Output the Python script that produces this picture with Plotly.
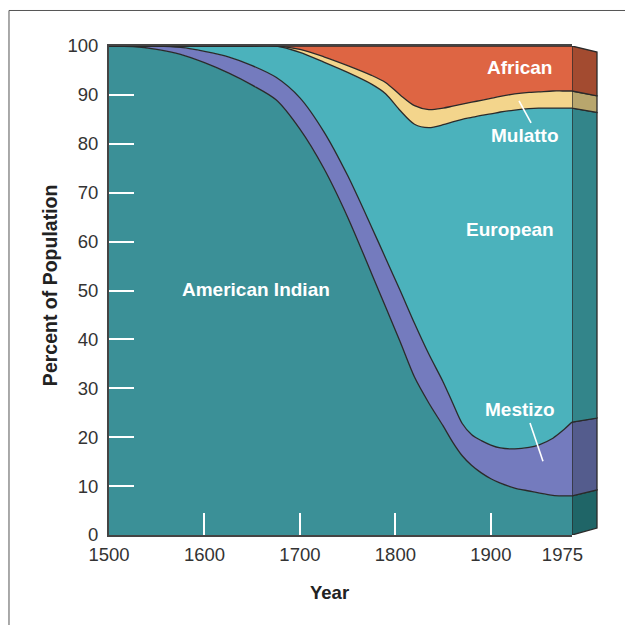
import plotly.graph_objects as go

# Years sampled along the horizontal axis
years = [1500, 1525, 1550, 1575, 1600, 1625, 1650, 1675,
         1700, 1725, 1750, 1775, 1790, 1805, 1820, 1835,
         1850, 1860, 1870, 1880, 1890, 1900, 1910, 1925,
         1940, 1950, 1965, 1975, 1985]

# Share of population (%) by group, stacked bottom to top
american_indian = [100, 99.9, 99.3, 98.3, 96.6, 94.5, 92.0, 89.0,
                   83.0, 75.0, 65.0, 53.5, 46.5, 39.5, 32.3, 27.0,
                   22.3, 19.0, 16.2, 14.2, 12.7, 11.5, 10.6, 9.6,
                   9.0, 8.6, 8.1, 8.0, 8.0]
mestizo = [0, 0.1, 0.7, 1.4, 2.3, 3.3, 4.0, 4.6,
           6.4, 7.5, 8.5, 9.5, 10.0, 10.5, 11.0, 10.0,
           9.0, 8.0, 6.6, 6.3, 6.6, 6.9, 7.2, 8.0,
           8.9, 9.8, 11.7, 13.3, 15.1]
european = [0, 0, 0, 0.3, 1.1, 2.2, 4.0, 6.4,
            9.3, 14.2, 21.1, 29.2, 33.7, 36.8, 40.7, 46.3,
            52.6, 57.5, 62.2, 64.9, 66.5, 67.7, 68.7, 69.3,
            69.3, 68.9, 67.5, 66.0, 64.2]
mulatto = [0, 0, 0, 0, 0, 0, 0, 0,
           0.6, 1.1, 1.4, 1.8, 2.3, 3.2, 3.8, 3.7,
           3.4, 3.2, 3.1, 3.1, 3.1, 3.2, 3.2, 3.3,
           3.3, 3.3, 3.5, 3.5, 3.5]
african = [0, 0, 0, 0, 0, 0, 0, 0,
           0.7, 2.2, 4.0, 6.0, 7.5, 10.0, 12.2, 13.0,
           12.7, 12.3, 11.9, 11.5, 11.1, 10.7, 10.3, 9.8,
           9.5, 9.4, 9.2, 9.2, 9.2]

groups = ["American Indian", "Mestizo", "European", "Mulatto", "African"]
series = [american_indian, mestizo, european, mulatto, african]

x_tick_vals = [1500, 1600, 1700, 1800, 1900, 1975]
x_tick_text = ["1500", "1600", "1700", "1800", "1900", "1975"]
y_tick_vals = [0, 10, 20, 30, 40, 50, 60, 70, 80, 90, 100]

front_colors = ["#3B9097", "#747BBE", "#4BB2BC", "#F3D58C", "#DE6543"]
side_colors = ["#1F6567", "#545C8D", "#33858A", "#B8A66D", "#A34B30"]
outline = "#2a2a2a"
font_family = "Liberation Sans, Arial, Helvetica, sans-serif"

fig = go.Figure()

# Stacked areas (front face)
for name, vals, col in zip(groups, series, front_colors):
    fig.add_trace(go.Scatter(
        x=years, y=vals, name=name, stackgroup="pop", mode="lines",
        line=dict(color=outline, width=1.3, shape="spline", smoothing=0.8),
        fillcolor=col, hoverinfo="skip", showlegend=False,
    ))

# Receding side face: band edges at the last year, foreshortened at the far edge
def far_edge(v):
    return 1.43 + v * 0.9734

edges = [0.0]
for vals in series:
    edges.append(edges[-1] + vals[-1])

for i, col in enumerate(side_colors):
    lo, hi = edges[i], edges[i + 1]
    fig.add_trace(go.Scatter(
        x=[0, 1, 1, 0, 0],
        y=[lo, far_edge(lo), far_edge(hi), hi, lo],
        xaxis="x2", yaxis="y", mode="lines", fill="toself",
        fillcolor=col, line=dict(color=outline, width=1.3),
        hoverinfo="skip", showlegend=False,
    ))

# Carrier for the inner white tick marks
fig.add_trace(go.Scatter(x=[None], y=[None], xaxis="x3", yaxis="y3",
                         hoverinfo="skip", showlegend=False))

main_right = 463 / 490

fig.update_layout(
    width=625, height=625,
    margin=dict(l=109, r=26, t=46, b=90),
    paper_bgcolor="white", plot_bgcolor="white",
    font=dict(family=font_family, size=18, color="#333"),
    xaxis=dict(
        domain=[0, main_right], range=[1500, 1985],
        tickvals=x_tick_vals, ticktext=x_tick_text, ticks="",
        showline=True, linecolor="#444", linewidth=2, mirror=True,
        showgrid=False, zeroline=False, ticklabelstandoff=2,
        tickfont=dict(size=18.5, color="#333"),
    ),
    xaxis2=dict(domain=[main_right, 1], range=[0, 1.08], visible=False,
                anchor="y"),
    yaxis=dict(
        range=[0, 100], tickvals=y_tick_vals, ticks="",
        showline=True, linecolor="#444", linewidth=2,
        showgrid=False, zeroline=False, ticklabelstandoff=5,
        tickfont=dict(size=18.5, color="#333"),
    ),
    xaxis3=dict(
        overlaying="x", anchor="y", range=[1500, 1985],
        tickvals=[1600, 1700, 1800, 1900], ticks="inside", ticklen=22,
        tickwidth=2, tickcolor="white", showticklabels=False,
        showline=False, showgrid=False, zeroline=False,
    ),
    yaxis3=dict(
        overlaying="y", anchor="x", range=[0, 100],
        tickvals=[10, 20, 30, 40, 50, 60, 70, 80, 90], ticks="inside",
        ticklen=25, tickwidth=2, tickcolor="white", showticklabels=False,
        showline=False, showgrid=False, zeroline=False,
    ),
)

# Group labels
labels = [
    ("African", 1930.5, 95.7),
    ("Mulatto", 1935.8, 81.8),
    ("European", 1920.1, 62.4),
    ("American Indian", 1654, 50.3),
    ("Mestizo", 1930.5, 25.6),
]
for text, lx, ly in labels:
    fig.add_annotation(x=lx, y=ly, xref="x", yref="y", text=f"<b>{text}</b>",
                       showarrow=False, xanchor="center", yanchor="middle",
                       font=dict(family=font_family, size=19, color="white"))

# Leader lines for the thin bands
fig.add_shape(type="line", xref="x", yref="y", x0=1929.5, y0=88.8, x1=1942.1, y1=84.3,
              line=dict(color="white", width=1.6))
fig.add_shape(type="line", xref="x", yref="y", x0=1941.0, y0=22.9, x1=1954.6, y1=15.1,
              line=dict(color="white", width=1.6))

# Axis titles
fig.add_annotation(x=0.451, y=-0.1166, xref="paper", yref="paper",
                   xanchor="center", yanchor="middle",
                   text="<b>Year</b>", showarrow=False,
                   font=dict(family=font_family, size=18.5, color="#222"))
fig.add_annotation(x=-0.1204, y=0.511, xref="paper", yref="paper",
                   xanchor="center", yanchor="middle",
                   text="<b>Percent of Population</b>", showarrow=False, textangle=-90,
                   font=dict(family=font_family, size=19.5, color="#222"))

# Page frame on the left and top
fig.add_shape(type="line", xref="paper", yref="paper", x0=-0.2041, y0=1.0726,
              x1=1.06, y1=1.0726, line=dict(color="#555", width=1))
fig.add_shape(type="line", xref="paper", yref="paper", x0=-0.2041, y0=1.0726,
              x1=-0.2041, y1=-0.19, line=dict(color="#555", width=1))

fig.write_html("out.html")
